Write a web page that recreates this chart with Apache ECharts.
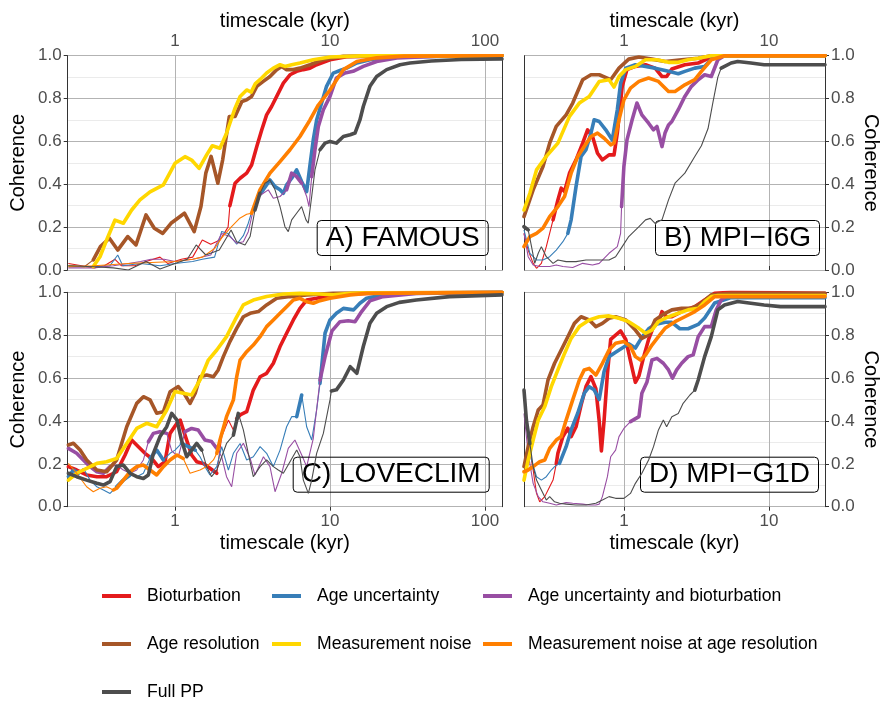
<!DOCTYPE html>
<html><head><meta charset="utf-8">
<script src="https://cdn.jsdelivr.net/npm/echarts@6/dist/echarts.min.js"></script>
<style>html,body{margin:0;padding:0;background:#fff}#c{width:882px;height:702px}</style>
</head><body><div id="c"></div>
<script>
// ---- categories / series ----
const seriesNames = ['Bioturbation','Age uncertainty','Age uncertainty and bioturbation','Age resolution','Measurement noise','Measurement noise at age resolution','Full PP'];
const seriesColors = ['#E41A1C','#377EB8','#984EA3','#A65628','#FFD700','#FF7F00','#4D4D4D'];
const panelLabels = ['A) FAMOUS','B) MPI\u2212I6G','C) LOVECLIM','D) MPI\u2212G1D'];
const xTickValues = [1,10,100];
// each point: [timescale kyr, coherence, significant(1)/not(0)]

// ---- A) FAMOUS ----
const famBio = [[0.205,0.03,0],[0.25,0.02,0],[0.3,0.01,0],[0.35,0.02,0],[0.41,0.05,0],[0.45,0.02,0],[0.55,0.02,0],[0.65,0.04,0],[0.8,0.06,0],[0.9,0.03,0],[1.1,0.05,0],[1.3,0.06,0],[1.5,0.14,0],[1.7,0.12,0],[1.95,0.14,0],[2.2,0.2,0],[2.26,0.3,1],[2.44,0.405,1],[2.63,0.428,1],[2.9,0.452,1],[3.12,0.49,1],[3.37,0.576,1],[3.63,0.654,1],[3.9,0.724,1],[4.2,0.763,1],[4.53,0.81,1],[5.0,0.872,1],[5.52,0.911,1],[6.09,0.927,1],[6.73,0.935,1],[7.43,0.942,1],[8.2,0.958,1],[10,0.981,1],[12.8,0.995,1],[20,0.999,1],[128.8,1,1]];
const famAgeU = [[0.205,0.02,0],[0.3,0.015,0],[0.38,0.02,0],[0.427,0.07,0],[0.46,0.02,0],[0.6,0.03,0],[0.8,0.02,0],[1.0,0.03,0],[1.3,0.04,0],[1.5,0.05,0],[1.8,0.06,0],[2.0,0.18,0],[2.2,0.17,0],[2.38,0.14,0],[2.5,0.12,0],[2.76,0.16,0],[2.97,0.218,0],[3.2,0.296,0],[3.45,0.343,1],[3.71,0.374,1],[4.1,0.42,1],[4.42,0.389,1],[4.76,0.374,1],[5.0,0.358,1],[5.25,0.397,1],[5.66,0.428,1],[6.09,0.467,1],[6.56,0.413,1],[7.07,0.366,1],[7.43,0.49,1],[7.8,0.607,1],[8.2,0.7,1],[8.83,0.779,1],[9.5,0.857,1],[10.5,0.919,1],[11.6,0.931,1],[12.8,0.942,1],[14.9,0.966,1],[18.1,0.981,1],[24.4,0.994,1],[128.8,1,1]];
const famAgeUB = [[0.205,0.01,0],[0.3,0.01,0],[0.4,0.02,0],[0.5,0.03,0],[0.6,0.04,0],[0.7,0.05,0],[0.85,0.05,0],[1.0,0.04,0],[1.3,0.05,0],[1.7,0.07,0],[2.0,0.17,0],[2.26,0.156,0],[2.5,0.125,0],[2.76,0.132,0],[2.97,0.179,0],[3.2,0.28,0],[3.45,0.343,0],[3.71,0.358,0],[4.0,0.374,0],[4.31,0.335,0],[4.76,0.343,0],[5.25,0.374,1],[5.66,0.452,1],[6.09,0.436,1],[6.56,0.405,1],[7.07,0.343,0],[7.32,0.296,0],[7.62,0.436,1],[8.0,0.561,1],[8.41,0.67,1],[9.06,0.748,1],[10,0.81,1],[11,0.896,1],[12.5,0.919,1],[14.1,0.927,1],[16.4,0.95,1],[20,0.973,1],[27,0.989,1],[50,0.998,1],[128.8,1,1]];
const famAgeRes = [[0.205,0.02,0],[0.26,0.015,0],[0.297,0.047,1],[0.33,0.109,1],[0.377,0.148,1],[0.427,0.093,1],[0.495,0.156,1],[0.56,0.117,1],[0.65,0.257,1],[0.735,0.195,1],[0.833,0.171,1],[0.942,0.218,1],[1.15,0.265,1],[1.33,0.179,1],[1.47,0.296,1],[1.58,0.452,1],[1.71,0.53,1],[1.89,0.405,1],[2.03,0.514,1],[2.24,0.716,1],[2.44,0.716,1],[2.7,0.786,1],[2.9,0.794,1],[3.12,0.81,1],[3.37,0.857,1],[3.71,0.88,1],[4.1,0.903,1],[4.53,0.935,1],[4.88,0.95,1],[5.25,0.935,1],[5.8,0.935,1],[6.4,0.942,1],[7.43,0.958,1],[8.98,0.981,1],[12.2,0.997,1],[128.8,1,1]];
const famNoise = [[0.205,0.02,0],[0.26,0.015,0],[0.297,0.016,1],[0.328,0.062,1],[0.362,0.14,1],[0.41,0.233,1],[0.464,0.218,1],[0.525,0.28,1],[0.594,0.327,1],[0.69,0.365,1],[0.841,0.397,1],[1.0,0.498,1],[1.16,0.529,1],[1.28,0.513,1],[1.43,0.474,1],[1.6,0.537,1],[1.74,0.58,1],[1.95,0.568,1],[2.15,0.638,1],[2.26,0.685,1],[2.44,0.755,1],[2.63,0.81,1],[2.9,0.84,1],[3.1,0.83,1],[3.3,0.87,1],[3.53,0.888,1],[3.9,0.919,1],[4.31,0.942,1],[4.76,0.958,1],[5.12,0.95,1],[5.66,0.958,1],[6.4,0.966,1],[7.8,0.981,1],[10,0.994,1],[16,0.999,1],[128.8,1,1]];
const famNoiseRes = [[0.205,0.015,0],[0.3,0.02,0],[0.5,0.03,0],[0.7,0.035,0],[1.0,0.04,0],[1.3,0.05,0],[1.5,0.06,0],[1.8,0.1,0],[2.0,0.15,0],[2.3,0.2,0],[2.6,0.24,0],[2.9,0.26,0],[3.12,0.265,1],[3.53,0.374,1],[4.1,0.452,1],[4.76,0.506,1],[5.52,0.561,1],[6.4,0.623,1],[7.43,0.7,1],[8.41,0.77,1],[10,0.84,1],[12.2,0.935,1],[14.9,0.973,1],[20,0.99,1],[30,0.998,1],[128.8,1,1]];
const famFull = [[0.205,0.02,0],[0.3,0.015,0],[0.4,0.01,0],[0.5,0.0,0],[0.65,0.04,0],[0.8,0.005,0],[1.0,0.03,0],[1.2,0.05,0],[1.37,0.117,0],[1.58,0.07,0],[1.93,0.093,0],[2.3,0.187,0],[2.5,0.132,0],[2.83,0.117,0],[3.05,0.156,0],[3.28,0.28,1],[3.53,0.358,1],[3.81,0.405,0],[4.1,0.42,0],[4.42,0.374,0],[4.76,0.296,0],[5.12,0.202,0],[5.38,0.179,0],[5.66,0.234,0],[6.09,0.265,0],[6.56,0.296,0],[7.0,0.234,0],[7.24,0.218,0],[7.62,0.343,0],[8.0,0.467,0],[8.62,0.561,1],[9.29,0.592,1],[10,0.6,1],[11,0.592,1],[12.2,0.623,1],[13.5,0.631,1],[14.5,0.639,1],[15.6,0.7,1],[16.4,0.763,1],[18.1,0.857,1],[20,0.903,1],[23.2,0.935,1],[28.3,0.958,1],[32.8,0.966,1],[45,0.975,1],[70,0.982,1],[128.8,0.985,1]];

// ---- B) MPI-I6G ----
const i6gBio = [[0.205,0.171,0],[0.219,0.093,0],[0.237,0.031,0],[0.25,0.008,0],[0.27,0.031,0],[0.292,0.109,0],[0.325,0.234,1],[0.351,0.327,1],[0.37,0.382,1],[0.39,0.366,1],[0.422,0.452,1],[0.468,0.514,1],[0.52,0.592,1],[0.562,0.654,1],[0.608,0.623,1],[0.658,0.545,1],[0.711,0.514,1],[0.79,0.537,1],[0.855,0.537,1],[0.901,0.639,1],[0.974,0.857,1],[1.05,0.935,1],[1.2,0.95,1],[1.41,0.958,1],[1.64,0.942,1],[1.83,0.903,1],[1.97,0.903,1],[2.14,0.938,1],[2.63,0.958,1],[3.25,0.966,1],[4.22,1,1],[24.3,1,1]];
const i6gAgeU = [[0.205,0.187,0],[0.225,0.078,0],[0.25,0.047,0],[0.277,0.047,0],[0.308,0.062,0],[0.342,0.093,0],[0.38,0.132,0],[0.411,0.171,1],[0.433,0.234,1],[0.468,0.389,1],[0.507,0.53,1],[0.548,0.561,1],[0.593,0.639,1],[0.624,0.701,1],[0.676,0.693,1],[0.75,0.654,1],[0.832,0.607,1],[0.901,0.748,1],[0.949,0.872,1],[1.03,0.942,1],[1.2,0.958,1],[1.41,0.95,1],[1.64,0.942,1],[2.03,0.927,1],[2.37,0.916,1],[2.63,0.927,1],[3.08,0.942,1],[3.6,0.95,1],[4.22,1,1],[24.3,1,1]];
const i6gAgeUB = [[0.205,0.171,0],[0.219,0.062,0],[0.237,0.023,0],[0.263,0.016,0],[0.308,0.016,0],[0.342,0.023,0],[0.38,0.016,0],[0.444,0.012,0],[0.52,0.031,0],[0.608,0.023,0],[0.676,0.031,0],[0.79,0.078,0],[0.901,0.109,0],[0.949,0.171,0],[0.964,0.296,1],[1.0,0.483,1],[1.05,0.607,1],[1.14,0.701,1],[1.23,0.779,1],[1.33,0.724,1],[1.48,0.685,1],[1.6,0.654,1],[1.69,0.67,1],[1.83,0.576,1],[1.92,0.639,1],[2.03,0.677,1],[2.14,0.693,1],[2.37,0.748,1],[2.63,0.81,1],[2.92,0.857,1],[3.25,0.888,1],[3.6,0.911,1],[4.0,0.903,1],[4.44,0.981,1],[4.93,1,1],[24.3,1,1]];
const i6gAgeRes = [[0.205,0.249,1],[0.237,0.374,1],[0.277,0.483,1],[0.308,0.592,1],[0.342,0.67,1],[0.4,0.724,1],[0.444,0.779,1],[0.52,0.888,1],[0.593,0.911,1],[0.676,0.911,1],[0.811,0.888,1],[0.925,0.942,1],[1.08,0.984,1],[1.27,0.994,1],[1.56,0.984,1],[1.92,0.973,1],[2.5,0.981,1],[3.25,0.988,1],[4.0,1,1],[24.3,1,1]];
const i6gNoise = [[0.205,0.28,1],[0.225,0.358,1],[0.25,0.467,1],[0.292,0.53,1],[0.351,0.592,1],[0.422,0.717,1],[0.493,0.779,1],[0.577,0.81,1],[0.676,0.88,1],[0.79,0.888,1],[0.855,0.854,1],[0.925,0.903,1],[1.03,0.935,1],[1.2,0.95,1],[1.41,0.981,1],[1.69,0.981,1],[2.03,0.969,1],[2.37,0.969,1],[2.77,0.981,1],[3.25,0.988,1],[4.0,1,1],[24.3,1,1]];
const i6gNoiseRes = [[0.205,0.109,1],[0.225,0.156,1],[0.25,0.171,1],[0.277,0.195,1],[0.308,0.249,1],[0.351,0.296,1],[0.39,0.343,1],[0.433,0.452,1],[0.481,0.53,1],[0.533,0.576,1],[0.593,0.623,1],[0.658,0.639,1],[0.731,0.615,1],[0.811,0.584,1],[0.855,0.592,1],[0.925,0.701,1],[1.0,0.794,1],[1.11,0.849,1],[1.27,0.88,1],[1.48,0.896,1],[1.73,0.88,1],[2.03,0.833,1],[2.25,0.833,1],[2.63,0.864,1],[3.08,0.888,1],[3.42,0.927,1],[4.0,0.981,1],[4.93,1,1],[24.3,1,1]];
const i6gFull = [[0.205,0.202,1],[0.219,0.187,1],[0.231,0.109,0],[0.243,0.031,0],[0.257,0.078,0],[0.27,0.109,0],[0.292,0.062,0],[0.325,0.031,0],[0.351,0.047,0],[0.4,0.039,0],[0.468,0.039,0],[0.548,0.047,0],[0.641,0.047,0],[0.79,0.047,0],[0.877,0.062,0],[0.974,0.109,0],[1.08,0.156,0],[1.27,0.202,0],[1.41,0.234,0],[1.52,0.241,0],[1.64,0.218,0],[1.83,0.234,0],[2.03,0.327,0],[2.25,0.405,0],[2.63,0.452,0],[3.08,0.53,0],[3.42,0.58,0],[3.8,0.66,0],[4.1,0.78,0],[4.44,0.9,0],[4.68,0.942,1],[5.48,0.966,1],[6.08,0.973,1],[7.5,0.966,1],[9.25,0.958,1],[24.3,0.958,1]];

// ---- C) LOVECLIM ----
const lovBio = [[0.205,0.187,1],[0.232,0.171,1],[0.269,0.148,1],[0.313,0.14,1],[0.362,0.14,1],[0.42,0.163,1],[0.476,0.241,1],[0.525,0.311,1],[0.58,0.28,1],[0.64,0.249,1],[0.707,0.225,1],[0.78,0.187,1],[0.862,0.21,1],[0.929,0.342,1],[1.03,0.389,1],[1.08,0.404,1],[1.16,0.334,1],[1.28,0.241,1],[1.38,0.21,1],[1.52,0.202,1],[1.68,0.179,1],[1.86,0.156,1],[2.0,0.327,0],[2.21,0.404,0],[2.38,0.358,0],[2.5,0.41,1],[2.63,0.428,1],[2.9,0.443,1],[3.2,0.544,1],[3.54,0.606,1],[3.9,0.622,1],[4.31,0.669,1],[4.76,0.747,1],[5.25,0.809,1],[5.8,0.871,1],[6.4,0.925,1],[7.07,0.964,1],[8.2,0.972,1],[10.5,0.988,1],[17.2,0.995,1],[128.8,1,1]];
const lovAgeU = [[0.205,0.14,1],[0.221,0.171,1],[0.238,0.156,1],[0.256,0.179,0],[0.283,0.124,0],[0.313,0.093,0],[0.345,0.078,0],[0.381,0.062,0],[0.42,0.093,1],[0.464,0.124,1],[0.513,0.148,1],[0.566,0.14,0],[0.625,0.156,0],[0.69,0.225,1],[0.762,0.264,1],[0.841,0.218,1],[0.929,0.249,0],[1.0,0.264,0],[1.1,0.295,1],[1.22,0.28,1],[1.35,0.264,1],[1.45,0.233,0],[1.56,0.187,0],[1.68,0.148,0],[1.86,0.187,0],[2.0,0.28,0],[2.21,0.171,0],[2.38,0.249,0],[2.63,0.295,0],[2.9,0.218,0],[3.2,0.233,0],[3.54,0.28,0],[3.9,0.249,0],[4.31,0.187,0],[4.76,0.264,0],[5.25,0.373,0],[5.66,0.42,0],[6.1,0.42,1],[6.57,0.521,1],[7.07,0.373,0],[7.62,0.311,0],[8.2,0.451,0],[8.62,0.575,1],[9.29,0.809,1],[10,0.871,1],[11,0.902,1],[12.2,0.925,1],[14.2,0.918,1],[15.6,0.949,1],[17.2,0.972,1],[22,0.988,1],[28,0.995,1],[128.8,1,1]];
const lovAgeUB = [[0.205,0.272,1],[0.232,0.249,1],[0.256,0.218,1],[0.283,0.187,1],[0.313,0.163,1],[0.345,0.156,1],[0.381,0.187,1],[0.42,0.194,0],[0.464,0.171,0],[0.513,0.156,0],[0.566,0.171,0],[0.625,0.218,0],[0.673,0.303,1],[0.725,0.342,1],[0.8,0.35,1],[0.884,0.342,1],[0.952,0.26,0],[1.05,0.233,0],[1.16,0.35,1],[1.28,0.365,1],[1.41,0.358,1],[1.56,0.311,1],[1.72,0.304,1],[1.86,0.272,1],[2.0,0.233,0],[2.15,0.14,0],[2.32,0.093,0],[2.5,0.249,0],[2.76,0.296,0],[3.05,0.226,0],[3.28,0.148,0],[3.72,0.233,0],[4.1,0.187,0],[4.42,0.07,0],[4.88,0.156,0],[5.38,0.272,0],[5.94,0.311,0],[6.57,0.241,0],[7.07,0.187,0],[7.8,0.318,0],[8.62,0.59,1],[9.29,0.699,1],[10.3,0.82,1],[11.6,0.863,1],[13.1,0.867,1],[14.5,0.863,1],[16.0,0.91,1],[18.1,0.96,1],[22,0.98,1],[36,0.995,1],[128.8,1,1]];
const lovAgeRes = [[0.205,0.288,1],[0.221,0.296,1],[0.244,0.264,1],[0.269,0.218,1],[0.313,0.171,1],[0.362,0.163,1],[0.42,0.218,1],[0.488,0.373,1],[0.566,0.482,1],[0.625,0.513,1],[0.69,0.498,1],[0.762,0.436,1],[0.841,0.443,1],[0.929,0.536,1],[1.05,0.56,1],[1.16,0.521,1],[1.25,0.482,1],[1.35,0.529,1],[1.45,0.606,1],[1.6,0.614,1],[1.77,0.606,1],[1.9,0.638,1],[2.05,0.7,1],[2.26,0.77,1],[2.5,0.832,1],[2.76,0.886,1],[3.05,0.902,1],[3.45,0.91,1],[3.9,0.941,1],[4.53,0.972,1],[5.52,0.98,1],[7.07,0.988,1],[10.5,0.995,1],[28,0.998,1],[128.8,1,1]];
const lovNoise = [[0.205,0.124,1],[0.232,0.156,1],[0.269,0.179,1],[0.313,0.202,1],[0.362,0.21,1],[0.42,0.225,1],[0.488,0.295,1],[0.566,0.365,1],[0.656,0.389,1],[0.762,0.373,1],[0.884,0.451,1],[1.0,0.537,1],[1.13,0.529,1],[1.28,0.521,1],[1.45,0.591,1],[1.64,0.684,1],[1.86,0.731,1],[2.15,0.793,1],[2.44,0.871,1],[2.76,0.941,1],[3.2,0.964,1],[3.9,0.98,1],[5.0,0.992,1],[6.4,0.995,1],[8.62,0.992,1],[10.5,0.988,1],[13.5,0.995,1],[17.2,0.998,1],[128.8,1,1]];
const lovNoiseRes = [[0.205,0.202,0],[0.232,0.156,0],[0.269,0.093,0],[0.297,0.07,0],[0.328,0.086,0],[0.362,0.093,0],[0.4,0.078,1],[0.42,0.086,1],[0.464,0.124,1],[0.513,0.163,1],[0.566,0.187,1],[0.625,0.194,1],[0.69,0.171,1],[0.762,0.148,1],[0.841,0.187,1],[0.929,0.218,1],[1.03,0.241,1],[1.13,0.225,1],[1.25,0.156,0],[1.45,0.171,0],[1.6,0.187,0],[1.77,0.218,0],[1.86,0.249,1],[1.95,0.311,1],[2.15,0.42,1],[2.38,0.498,1],[2.5,0.606,1],[2.63,0.684,1],[2.9,0.723,1],[3.2,0.754,1],[3.54,0.793,1],[3.9,0.84,1],[4.31,0.871,1],[4.76,0.902,1],[5.25,0.933,1],[5.8,0.964,1],[6.4,0.972,1],[7.07,0.956,1],[7.8,0.949,1],[8.62,0.961,1],[10,0.972,1],[13.5,0.988,1],[17.2,0.995,1],[128.8,1,1]];
const lovFull = [[0.205,0.156,1],[0.232,0.14,1],[0.269,0.124,1],[0.313,0.109,1],[0.345,0.101,1],[0.381,0.117,1],[0.42,0.187,1],[0.464,0.194,1],[0.513,0.156,1],[0.566,0.14,1],[0.625,0.132,1],[0.673,0.148,1],[0.725,0.249,1],[0.8,0.327,1],[0.884,0.373,1],[0.952,0.435,1],[1.03,0.404,1],[1.1,0.311,1],[1.19,0.233,1],[1.28,0.264,1],[1.38,0.295,1],[1.49,0.264,1],[1.6,0.187,0],[1.72,0.14,0],[1.86,0.171,0],[2.0,0.233,0],[2.15,0.295,0],[2.38,0.334,1],[2.56,0.435,1],[2.76,0.358,0],[2.97,0.249,0],[3.2,0.14,0],[3.54,0.187,0],[3.9,0.218,0],[4.31,0.187,0],[4.64,0.171,0],[5.0,0.156,0],[5.52,0.21,0],[6.1,0.264,0],[6.4,0.233,0],[6.73,0.124,0],[7.25,0.062,0],[7.62,0.124,0],[8.2,0.249,0],[9.06,0.342,0],[10,0.498,0],[10.2,0.54,1],[11,0.545,1],[12.2,0.591,1],[13.5,0.653,1],[14.9,0.622,1],[16.4,0.747,1],[18.1,0.856,1],[20,0.902,1],[23.2,0.933,1],[28,0.953,1],[36,0.964,1],[59,0.98,1],[128.8,0.988,1]];

// ---- D) MPI-G1D ----
const g1dBio = [[0.205,0.544,1],[0.219,0.31,0],[0.237,0.171,0],[0.25,0.062,0],[0.263,0.023,0],[0.285,0.047,0],[0.308,0.093,0],[0.325,0.124,0],[0.342,0.2,1],[0.351,0.249,1],[0.38,0.327,1],[0.411,0.366,1],[0.433,0.327,1],[0.468,0.373,1],[0.507,0.474,1],[0.548,0.56,1],[0.593,0.607,1],[0.641,0.55,1],[0.676,0.4,1],[0.7,0.26,1],[0.73,0.4,1],[0.77,0.62,1],[0.811,0.78,1],[0.877,0.8,1],[0.949,0.82,1],[1.03,0.78,1],[1.11,0.68,1],[1.2,0.58,1],[1.27,0.61,1],[1.37,0.7,1],[1.48,0.78,1],[1.6,0.84,1],[1.73,0.86,1],[1.83,0.91,1],[1.97,0.886,1],[2.14,0.886,1],[2.37,0.902,1],[2.63,0.918,1],[3.08,0.933,1],[3.6,0.964,1],[4.22,0.995,1],[5.48,1,1],[24.3,0.995,1]];
const g1dAgeU = [[0.205,0.513,1],[0.219,0.342,0],[0.231,0.218,0],[0.25,0.14,0],[0.27,0.124,0],[0.292,0.14,0],[0.316,0.171,0],[0.333,0.187,0],[0.36,0.202,1],[0.4,0.28,1],[0.433,0.358,1],[0.48,0.435,1],[0.533,0.529,1],[0.577,0.56,1],[0.624,0.545,1],[0.676,0.5,1],[0.73,0.63,1],[0.79,0.7,1],[0.877,0.72,1],[0.974,0.74,1],[1.08,0.76,1],[1.2,0.74,1],[1.33,0.79,1],[1.48,0.83,1],[1.64,0.85,1],[1.92,0.86,1],[2.14,0.86,1],[2.43,0.83,1],[2.77,0.83,1],[3.25,0.85,1],[3.6,0.88,1],[4.22,0.95,1],[5.48,0.975,1],[24.3,0.975,1]];
const g1dAgeUB = [[0.205,0.435,0],[0.219,0.249,0],[0.237,0.109,0],[0.257,0.047,0],[0.277,0.023,0],[0.308,0.016,0],[0.342,0.008,0],[0.4,0.019,0],[0.444,0.016,0],[0.52,0.012,0],[0.577,0.008,0],[0.641,0.008,0],[0.676,0.012,0],[0.711,0.047,0],[0.77,0.14,0],[0.811,0.233,0],[0.877,0.264,0],[0.925,0.327,0],[1.0,0.365,0],[1.11,0.397,1],[1.27,0.42,1],[1.33,0.529,1],[1.44,0.58,1],[1.56,0.684,1],[1.69,0.692,1],[1.87,0.669,1],[2.03,0.638,1],[2.16,0.6,1],[2.31,0.638,1],[2.5,0.669,1],[2.77,0.7,1],[3.0,0.708,1],[3.25,0.793,1],[3.6,0.84,1],[4.0,0.84,1],[4.33,0.918,1],[4.68,0.964,1],[5.2,0.988,1],[24.3,0.988,1]];
const g1dAgeRes = [[0.205,0.187,1],[0.219,0.28,1],[0.237,0.373,1],[0.257,0.451,1],[0.277,0.474,1],[0.3,0.591,1],[0.333,0.669,1],[0.37,0.731,1],[0.411,0.793,1],[0.456,0.855,1],[0.507,0.886,1],[0.577,0.871,1],[0.641,0.84,1],[0.711,0.855,1],[0.79,0.879,1],[0.877,0.886,1],[1.03,0.871,1],[1.2,0.824,1],[1.33,0.785,1],[1.48,0.801,1],[1.64,0.871,1],[1.92,0.902,1],[2.14,0.918,1],[2.5,0.925,1],[2.92,0.925,1],[3.42,0.949,1],[4.0,0.988,1],[5.48,0.995,1],[24.3,0.995,1]];
const g1dNoise = [[0.205,0.124,1],[0.219,0.218,1],[0.237,0.311,1],[0.257,0.404,1],[0.285,0.467,1],[0.316,0.56,1],[0.351,0.638,1],[0.39,0.715,1],[0.433,0.785,1],[0.493,0.84,1],[0.577,0.871,1],[0.676,0.886,1],[0.79,0.89,1],[0.925,0.879,1],[1.08,0.863,1],[1.27,0.832,1],[1.41,0.809,1],[1.56,0.824,1],[1.73,0.863,1],[2.03,0.886,1],[2.37,0.902,1],[2.77,0.918,1],[3.25,0.925,1],[3.6,0.956,1],[4.0,0.98,1],[4.44,0.985,1],[5.48,0.985,1],[24.3,0.985,1]];
const g1dNoiseRes = [[0.205,0.163,1],[0.219,0.171,1],[0.237,0.187,1],[0.263,0.21,1],[0.285,0.218,1],[0.308,0.272,1],[0.342,0.311,1],[0.37,0.327,1],[0.4,0.404,1],[0.444,0.498,1],[0.493,0.591,1],[0.533,0.638,1],[0.577,0.645,1],[0.641,0.614,1],[0.711,0.669,1],[0.79,0.731,1],[0.877,0.762,1],[1.0,0.77,1],[1.11,0.747,1],[1.2,0.7,1],[1.3,0.684,1],[1.41,0.708,1],[1.56,0.754,1],[1.73,0.793,1],[1.92,0.832,1],[2.25,0.863,1],[2.63,0.886,1],[3.08,0.91,1],[3.6,0.941,1],[4.22,0.98,1],[5.48,0.98,1],[24.3,0.98,1]];
const g1dFull = [[0.205,0.544,1],[0.213,0.404,1],[0.225,0.295,1],[0.237,0.187,0],[0.25,0.124,0],[0.27,0.078,0],[0.292,0.031,0],[0.308,0.047,0],[0.333,0.023,0],[0.36,0.016,0],[0.4,0.012,0],[0.468,0.008,0],[0.548,0.008,0],[0.641,0.016,0],[0.711,0.031,0],[0.79,0.047,0],[0.877,0.039,0],[1.0,0.039,0],[1.11,0.062,0],[1.2,0.109,0],[1.33,0.156,0],[1.48,0.218,0],[1.6,0.28,0],[1.73,0.358,0],[1.87,0.404,0],[1.97,0.373,0],[2.14,0.42,0],[2.37,0.435,0],[2.56,0.482,0],[2.85,0.521,0],[3.08,0.544,1],[3.25,0.591,1],[3.6,0.7,1],[4.0,0.793,1],[4.44,0.918,1],[4.93,0.941,1],[5.48,0.949,1],[6.08,0.957,1],[7.5,0.949,1],[9.25,0.941,1],[12,0.933,1],[24.3,0.933,1]];

const panelData = [
  [famBio, famAgeU, famAgeUB, famAgeRes, famNoise, famNoiseRes, famFull],
  [i6gBio, i6gAgeU, i6gAgeUB, i6gAgeRes, i6gNoise, i6gNoiseRes, i6gFull],
  [lovBio, lovAgeU, lovAgeUB, lovAgeRes, lovNoise, lovNoiseRes, lovFull],
  [g1dBio, g1dAgeU, g1dAgeUB, g1dAgeRes, g1dNoise, g1dNoiseRes, g1dFull]
];
const xRanges = [[0.203,128.8],[0.205,24.3],[0.203,128.8],[0.205,24.3]];

// ---- layout ----
const FONT = '"Liberation Sans", Arial, sans-serif';
const grids = [
  {left:67.7, top:55.7, width:434.3, height:214.3},
  {left:524, top:55.7, width:304.3, height:214.3},
  {left:67.7, top:292.3, width:434.3, height:214.4},
  {left:524, top:292.3, width:304.3, height:214.4}
];
const labelPos = [[316.7,220],[655,220],[292.7,456.7],[640,456.7]];

const xAxis = [], yAxis = [], series = [], titles = [];
for (let i = 0; i < 4; i++) {
  const top = i < 2, leftSide = (i % 2 === 0);
  xAxis.push({
    type:'log', logBase:10, gridIndex:i, min:xRanges[i][0], max:xRanges[i][1],
    position: top ? 'top' : 'bottom',
    name:'timescale (kyr)', nameLocation:'middle', nameGap: top ? 24 : 27,
    nameTextStyle:{fontFamily:FONT, fontSize:20, color:'#000'},
    axisLine:{show:false},
    axisTick:{show:true, length:4, lineStyle:{color:'#333'}},
    axisLabel:{fontFamily:FONT, fontSize:17, color:'#4d4d4d', margin:6, showMinLabel:false, showMaxLabel:false,
      formatter: v => (xTickValues.some(t => Math.abs(t - v) / t < 1e-6) ? String(Math.round(v)) : '')},
    splitLine:{show:true, lineStyle:{color:'#b3b3b3', width:1}},
    minorSplitLine:{show:false}
  });
  yAxis.push({
    type:'value', gridIndex:i, min:0, max:1, interval:0.2,
    position: leftSide ? 'left' : 'right',
    name:'Coherence', nameLocation:'middle', nameGap: leftSide ? 39 : 36, nameRotate: leftSide ? 90 : -90,
    nameTextStyle:{fontFamily:FONT, fontSize:20, color:'#000'},
    axisLine:{show:true, lineStyle:{color:'#333', width:1}},
    axisTick:{show:true, length:4, lineStyle:{color:'#333'}},
    axisLabel:{fontFamily:FONT, fontSize:17, color:'#4d4d4d', margin:6, formatter: v => v.toFixed(1)},
    splitLine:{show:true, lineStyle:{color:'#b3b3b3', width:1}},
    minorTick:{show:false, splitNumber:2},
    minorSplitLine:{show:true, lineStyle:{color:'#ebebeb', width:1.2}}
  });
  titles.push({
    text: panelLabels[i], left: labelPos[i][0], top: labelPos[i][1],
    padding:[4,9], borderColor:'#000', borderWidth:1, borderRadius:4,
    textStyle:{fontFamily:FONT, fontSize:28, fontWeight:'normal', color:'#000', lineHeight:28}
  });
}
// opposite-side frame lines
for (let i = 0; i < 4; i++) {
  const leftSide = (i % 2 === 0);
  yAxis.push({
    type:'value', gridIndex:i, min:0, max:1, position: leftSide ? 'right' : 'left',
    axisLine:{show:true, lineStyle:{color:'#333', width:1}},
    axisTick:{show:false}, axisLabel:{show:false}, splitLine:{show:false}
  });
}

for (let i = 0; i < 4; i++) {
  for (let s = 0; s < seriesNames.length; s++) {
    const pts = panelData[i][s];
    const col = seriesColors[s];
    series.push({
      type:'line', name:seriesNames[s], xAxisIndex:i, yAxisIndex:i,
      data: pts.map(p => [p[0], p[1]]),
      showSymbol:false, symbol:'none', silent:true, animation:false,
      itemStyle:{color:col}, lineStyle:{color:col, width:1.1}, z:2 + s
    });
    series.push({
      type:'line', name:seriesNames[s], xAxisIndex:i, yAxisIndex:i,
      data: pts.map(p => p[2] ? [p[0], p[1]] : [p[0], null]),
      connectNulls:false,
      showSymbol:false, symbol:'none', silent:true, animation:false,
      itemStyle:{color:col}, lineStyle:{color:col, width:3.6, cap:'round', join:'round'}, z:2 + s
    });
  }
}

// legend: 3 columns x 3 rows, one legend component per entry
const legendCols = [102, 272, 483];
const legendRows = [586, 634, 682];
const legendSlots = [[0,0],[1,0],[2,0],[0,1],[1,1],[2,1],[0,2]]; // [col,row] for seriesNames order
const legends = seriesNames.map((nm, j) => ({
  left: legendCols[legendSlots[j][0]], top: legendRows[legendSlots[j][1]],
  padding:0, orient:'horizontal', icon:'rect', itemWidth:29, itemHeight:4,
  selectedMode:false,
  data:[nm],
  textStyle:{fontFamily:FONT, fontSize:17.6, color:'#000', lineHeight:20, padding:[0,0,0,11]}
}));

const chart = echarts.init(document.getElementById('c'), null, {renderer:'canvas'});
chart.setOption({
  backgroundColor:'#fff',
  animation:false,
  title:titles,
  legend:legends,
  grid:grids,
  xAxis:xAxis,
  yAxis:yAxis,
  series:series
});
</script></body></html>
